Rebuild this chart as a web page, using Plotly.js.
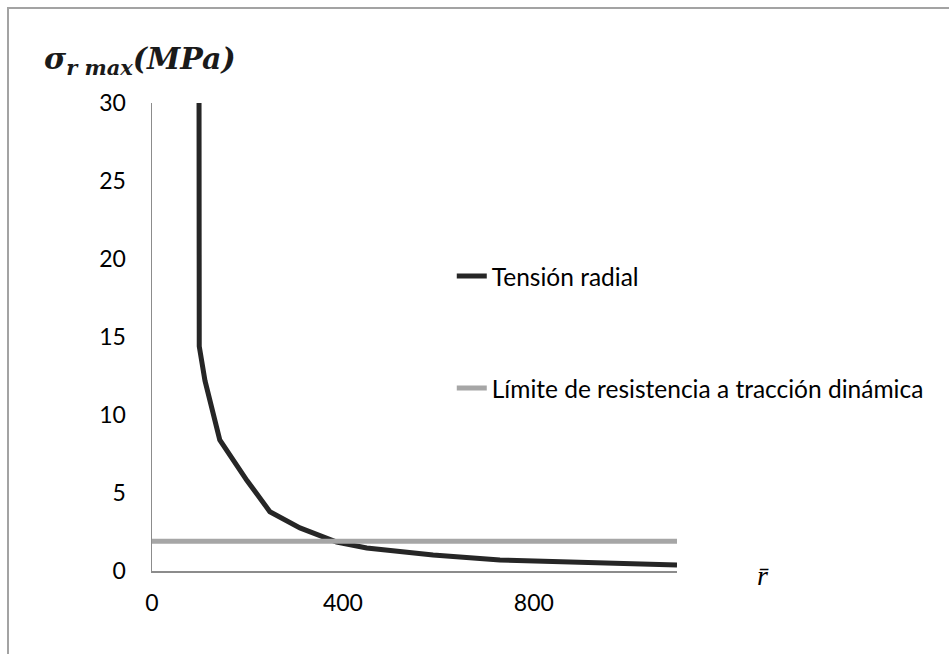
<!DOCTYPE html>
<html>
<head>
<meta charset="utf-8">
<script src="https://cdn.plot.ly/plotly-3.0.1.min.js"></script>
<style>
  html, body { margin: 0; padding: 0; background: #ffffff; }
  #wrap { position: relative; width: 949px; height: 654px; }
  #chart { width: 949px; height: 654px; }
  #frame { position: absolute; left: 7px; top: 7px; width: 960px; height: 660px;
           border-left: 2px solid #a3a3a3; border-top: 2px solid #a3a3a3; pointer-events: none; }
</style>
</head>
<body>
<div id="wrap">
  <div id="chart"></div>
  <div id="frame"></div>
</div>
<script>
// Radial stress curve (r̄ vs σ_r max in MPa)
const rBar = [96, 99, 111, 142, 199, 247, 310, 387, 450, 589, 729, 900, 1100];
const sigmaR = [120, 14.4, 12.2, 8.4, 5.8, 3.8, 2.76, 1.86, 1.47, 1.03, 0.70, 0.52, 0.38];
// Dynamic tensile strength limit
const limitR = [0, 1100];
const limitSigma = [1.9, 1.9];

const seriesNames = ["Tensión radial", "Límite de resistencia a tracción dinámica"];
const xTicks = [0, 400, 800];
const yTicks = [0, 5, 10, 15, 20, 25, 30];

const tickFont = { family: "Lato, 'Open Sans', sans-serif", size: 23, color: "#000000" };

const traces = [
  {
    x: rBar, y: sigmaR, type: "scatter", mode: "lines", name: seriesNames[0],
    legendgroup: "a",
    line: { color: "#262626", width: 5 }
  },
  {
    x: limitR, y: limitSigma, type: "scatter", mode: "lines", name: seriesNames[1],
    legendgroup: "b",
    line: { color: "#a6a6a6", width: 5 }
  }
];

const layout = {
  width: 949, height: 654,
  margin: { l: 152, r: 272, t: 103, b: 83 },
  paper_bgcolor: "#ffffff", plot_bgcolor: "#ffffff",
  showlegend: true,
  legend: {
    x: 0.571, xanchor: "left", y: 0.678, yanchor: "top",
    traceorder: "grouped", tracegroupgap: 77,
    font: { family: "Lato, 'Open Sans', sans-serif", size: 24.5, color: "#000000" },
    bgcolor: "rgba(0,0,0,0)"
  },
  xaxis: {
    range: [0, 1100], tickvals: xTicks, ticktext: xTicks.map(String),
    showgrid: false, zeroline: false, showline: true, linecolor: "#8c8c8c", linewidth: 1.5,
    ticks: "", ticklabelstandoff: 11, tickfont: tickFont, fixedrange: true
  },
  yaxis: {
    range: [0, 30], tickvals: yTicks, ticktext: yTicks.map(String),
    showgrid: false, zeroline: false, showline: true, linecolor: "#8c8c8c", linewidth: 1.5,
    ticks: "", ticklabelstandoff: 20, tickfont: tickFont, fixedrange: true
  },
  annotations: [
    {
      text: "<b><i>σ<sub>r max</sub>(MPa)</i></b>",
      xref: "paper", yref: "paper", x: -0.2095, y: 1.09, xanchor: "left", yanchor: "middle",
      showarrow: false,
      font: { family: "'DejaVu Serif', 'Liberation Serif', serif", size: 30, color: "#1a1a1a" }
    },
    {
      text: "<i>r̄</i>",
      xref: "paper", yref: "paper", x: 1.164, y: -0.009, xanchor: "center", yanchor: "middle",
      showarrow: false,
      font: { family: "'Liberation Serif', 'DejaVu Serif', serif", size: 28, color: "#000000" }
    }
  ]
};

Plotly.newPlot("chart", traces, layout, { displayModeBar: false, staticPlot: true });
</script>
</body>
</html>
